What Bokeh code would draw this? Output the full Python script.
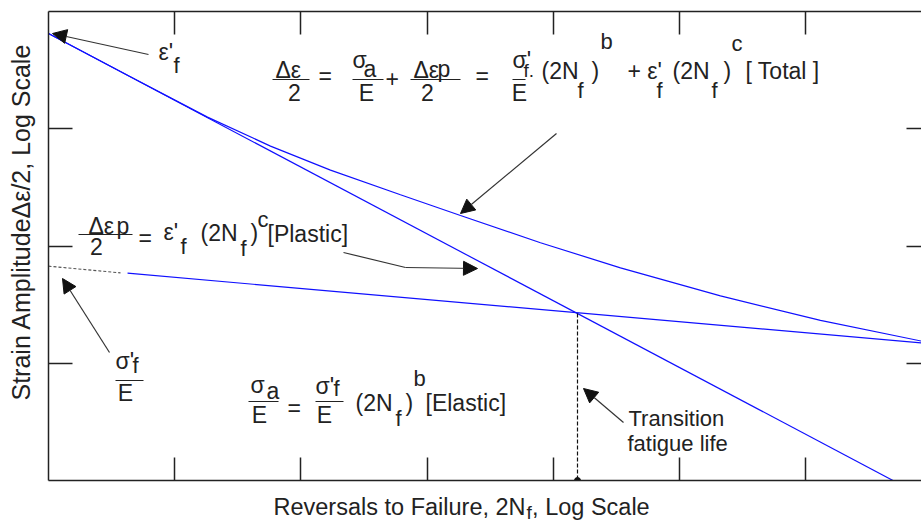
import math
from bokeh.plotting import figure
from bokeh.models import (LogAxis, FixedTicker, CustomJSTickFormatter, Range1d,
                          Label, Arrow, NormalHead)
from bokeh.embed import file_html
from bokeh.resources import INLINE

# Strain-life curve: reversals to failure (2Nf) vs strain amplitude
plastic_reversals = [1.0, 4.92e6]
plastic_strain = [0.649, 1.0e-4]

elastic_dash_reversals = [1.0, 3.72]
elastic_dash_strain = [6.73e-3, 5.90e-3]
elastic_reversals = [4.23, 8.28e6]
elastic_strain = [5.86e-3, 1.489e-3]

total_reversals = [1.0, 4.305, 18.19, 57.42, 171.6, 615.4, 1840, 7917,
                   34080, 211300, 1.310e6, 8.272e6]
total_strain = [0.6493, 0.2829, 0.1257, 0.07112, 0.04439, 0.02739, 0.01820,
                0.01067, 0.006505, 0.003753, 0.002320, 0.001545]

transition_reversals = [15560, 15560]
transition_strain = [2.657e-3, 1.0e-4]

x_ticks = [1e1, 1e2, 1e3, 1e4, 1e5, 1e6]
y_ticks = [1e-3, 1e-2, 1e-1]

INK = "#222222"
BLUE = "#1010ff"
FONT = "Liberation Sans"
EQ = 23    # equation text size
SUB = 22   # sub/superscript size

FL, FT, FB = 48, 11, 480   # frame left / top / bottom in canvas pixels

p = figure(width=921, height=524, x_axis_type="log", y_axis_type="log",
           x_range=Range1d(1, 10 ** 6.918), y_range=Range1d(1e-4, 1),
           output_backend="svg", toolbar_location=None,
           min_border_left=FL, min_border_right=0,
           min_border_top=FT, min_border_bottom=524 - FB)
p.outline_line_color = None
p.xgrid.visible = False
p.ygrid.visible = False
p.background_fill_color = "white"
p.border_fill_color = "white"

p.add_layout(LogAxis(), "above")
p.add_layout(LogAxis(), "right")


def style_axis(ax, ticks, tick_in, line=True):
    ax.ticker = FixedTicker(ticks=ticks)
    ax.formatter = CustomJSTickFormatter(code="return ''")
    ax.major_tick_in = tick_in
    ax.major_tick_out = 0
    ax.minor_tick_in = 0
    ax.minor_tick_out = 0
    ax.major_label_standoff = 0
    ax.major_label_text_font_size = "0px"
    ax.axis_label = None
    ax.axis_line_color = INK if line else None
    ax.axis_line_width = 1.5
    ax.major_tick_line_color = INK
    ax.major_tick_line_width = 1.5


style_axis(p.below[0], x_ticks, 23)
style_axis(p.above[0], x_ticks, 23)
style_axis(p.left[0], y_ticks, 24)
style_axis(p.right[0], y_ticks, 15, line=False)

# curves
p.line(plastic_reversals, plastic_strain, color=BLUE, line_width=1.2)
p.line(elastic_reversals, elastic_strain, color=BLUE, line_width=1.2)
p.line(elastic_dash_reversals, elastic_dash_strain, color="#555555",
       line_width=1.1, line_dash="3 2")
p.line(total_reversals, total_strain, color=BLUE, line_width=1.2)

# transition fatigue life marker
p.line(transition_reversals, transition_strain, color="#111111",
       line_width=1.2, line_dash="4 2")
p.scatter([transition_reversals[1]], [transition_strain[1]], size=6,
          color="#111111")


def put(s, x, y, size=EQ, align="left", baseline="middle", angle=0.0):
    p.add_layout(Label(x=x - FL, y=FB - y, x_units="screen", y_units="screen",
                       text=s, text_font=FONT, text_font_size=f"{size}px",
                       text_align=align, text_baseline=baseline,
                       text_color=INK, angle=angle))


def put_side(side, s, x, y, size=20, align="left", baseline="middle",
             angle=0.0):
    # text outside the frame, given in canvas pixels
    p.add_layout(Label(x=x, y=y, x_units="canvas", y_units="canvas",
                       text=s, text_font=FONT, text_font_size=f"{size}px",
                       text_align=align, text_baseline=baseline,
                       text_color=INK, angle=angle), side)


def bar(x0, x1, y):
    p.add_layout(Arrow(x_start=x0 - FL, y_start=FB - y, x_end=x1 - FL,
                       y_end=FB - y, start_units="screen", end_units="screen",
                       end=None, line_color=INK, line_width=1.2))


def pointer(x0, y0, x1, y1, head=True):
    p.add_layout(Arrow(x_start=x0 - FL, y_start=FB - y0, x_end=x1 - FL,
                       y_end=FB - y1, start_units="screen", end_units="screen",
                       end=NormalHead(size=14, fill_color="#111111",
                                      line_color="#111111") if head else None,
                       line_color="#333333", line_width=1.2))


# total strain equation
put("Δε", 275, 69)
bar(272, 309, 79)
put("2", 294, 92, align="center")
put("=", 318, 75)
put("σ", 352, 59)
put("a", 363, 68)
bar(352, 383, 79)
put("E", 366, 92, align="center")
put("+", 385, 78)
put("Δε", 413, 69)
put("p", 437, 68)
bar(410, 460, 79)
put("2", 427, 92, align="center")
put("=", 475, 75)
put("σ'", 512, 59)
put("f.", 523, 70, size=19)
bar(512, 525, 79)
put("E", 519, 92, align="center")
put("(2N", 541, 70)
put("f", 577, 90, size=SUB)
put(")", 591, 70)
put("b", 600, 41, size=SUB)
put("+ ε'", 627, 70)
put("f", 656, 90, size=SUB)
put("(2N", 672, 70)
put("f", 711, 90, size=SUB)
put(")", 723, 70)
put("c", 731, 43, size=SUB)
put("[ Total ]", 745, 70)

# plastic equation
put("Δε", 88, 225)
put("p", 116, 225)
bar(78, 132, 234)
put("2", 96, 246, align="center")
put("=", 138, 237)
put("ε'", 163, 231)
put("f", 180, 246, size=SUB)
put("(2N", 200, 232)
put("f", 240, 248, size=SUB)
put(")", 250, 232)
put("c", 257, 219, size=SUB)
put("[Plastic]", 267, 233)

# elastic equation
put("σ", 250, 384)
put("a", 266, 390)
bar(248, 278, 401)
put("E", 259, 414, align="center")
put("=", 287, 407)
put("σ'", 315, 385)
put("f", 333, 388, size=SUB)
bar(315, 343, 401)
put("E", 324, 414, align="center")
put("(2N", 355, 402)
put("f", 395, 418, size=SUB)
put(")", 405, 402)
put("b", 413, 378, size=SUB)
put("[Elastic]", 425, 402)

# intercept labels
put("σ'", 115, 360)
put("f", 132, 365, size=SUB)
bar(115, 143, 380)
put("E", 125, 392, align="center")
put("ε'", 158, 51)
put("f", 173, 65, size=SUB)

put("Transition", 628, 418, size=22)
put("fatigue life", 627, 443, size=22)

# pointers
pointer(148, 54, 52, 33)
pointer(556, 133, 460, 213)
pointer(343, 252, 405, 267, head=False)
pointer(405, 267, 477, 268)
pointer(109, 352, 62, 278)
pointer(623, 422, 583, 388)

# axis titles
put_side("below", "Reversals to Failure, 2N  , Log Scale", 273, 506,
         size=23.5)
put_side("left", "f", 526, 512, size=19)
put_side("left", "Strain AmplitudeΔε/2, Log Scale", 20, 400, size=25,
         angle=math.pi / 2)

open("out.html", "w").write(file_html(p, INLINE))
